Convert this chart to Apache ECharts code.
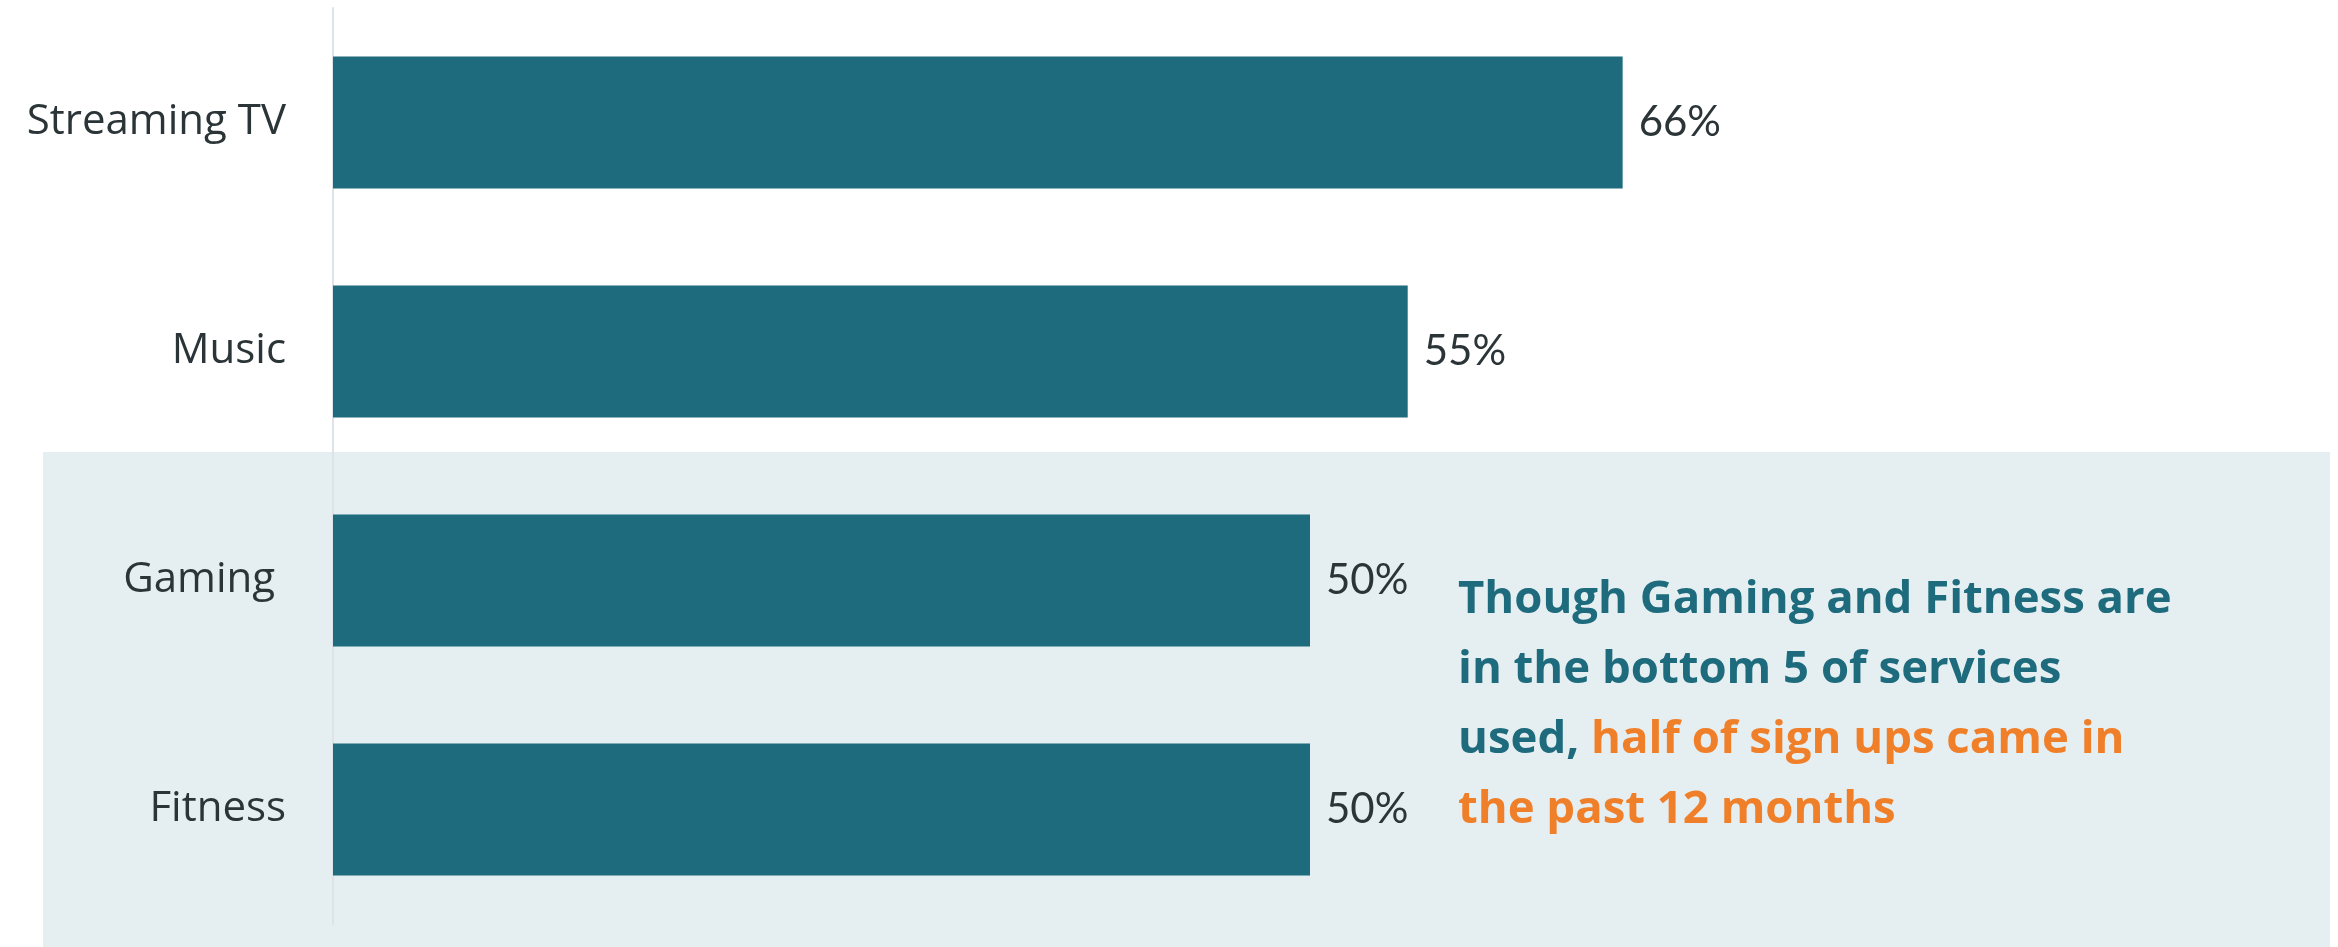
<!DOCTYPE html>
<html><head><meta charset="utf-8">
<script src="https://cdn.jsdelivr.net/npm/echarts@6/dist/echarts.min.js"></script>
<style>html,body{margin:0;padding:0;background:#fff}#c{width:2338px;height:947px}</style>
</head><body><div id="c"></div>
<script>
const categories = ['Streaming TV', 'Music', 'Gaming ', 'Fitness'];
const values = [66, 55, 50, 50];
const valueLabels = ['66%', '55%', '50%', '50%'];

const chart = echarts.init(document.getElementById('c'));
chart.setOption({
  backgroundColor: '#ffffff',
  animation: false,
  graphic: [
    { type: 'rect', z: -10, shape: { x: 43, y: 452, width: 2287, height: 495 }, style: { fill: '#e5eef1' } },
    { type: 'text', z: 10, left: 1458, top: 577,
      style: {
        text: '{t|Though Gaming and Fitness are}\n{t|in the bottom 5 of services}\n{t|used, }{o|half of sign ups came in}\n{o|the past 12 months}',
        rich: {
          t: { fontFamily: 'Open Sans', fontWeight: 'bold', fontSize: 45.5, fill: '#1d6b7c', lineHeight: 70 },
          o: { fontFamily: 'Open Sans', fontWeight: 'bold', fontSize: 45.5, fill: '#f07f2a', lineHeight: 70 }
        }
      }
    }
  ],
  grid: { left: 333, right: 51, top: 8, bottom: 23, containLabel: false },
  xAxis: { type: 'value', min: 0, max: 100, show: false },
  yAxis: {
    type: 'category', data: categories, inverse: true,
    axisLine: { show: true, lineStyle: { color: '#dde3e6', width: 2 } },
    axisTick: { show: false },
    axisLabel: { margin: 47, fontFamily: 'Open Sans', fontSize: 42, color: '#2b3538', padding: [12, 0, 0, 0] }
  },
  series: [{
    type: 'bar', data: values, barWidth: 132,
    itemStyle: { color: '#1d6b7c' },
    label: {
      show: true, position: 'right', distance: 16,
      fontFamily: 'Lato', fontSize: 42, color: '#2b3538',
      formatter: p => valueLabels[p.dataIndex]
    }
  }]
});
</script></body></html>
